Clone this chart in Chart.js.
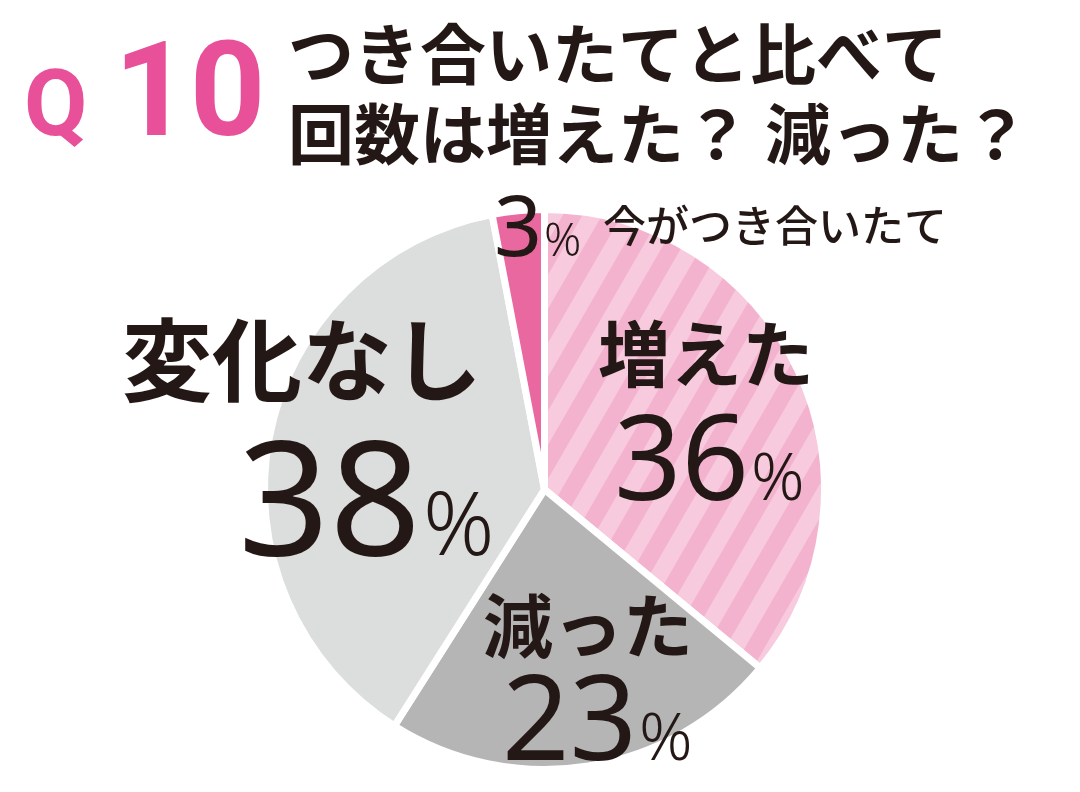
<!DOCTYPE html>
<html>
<head>
<meta charset="utf-8">
<script src="https://cdn.jsdelivr.net/npm/chart.js@4.4.1/dist/chart.umd.min.js"></script>
<style>
html, body { margin: 0; padding: 0; background: #fff; }
#wrap { width: 1080px; height: 792px; position: relative; }
</style>
</head>
<body>
<div id="wrap"><canvas id="myChart"></canvas></div>
<script>
// answers, clockwise from 12 o'clock
const categories = ['増えた', '減った', '変化なし', '今がつき合いたて'];
const values = [36, 23, 38, 3];
const sliceColors = ['#f7c9dc', '#b5b5b6', '#dcdddd', '#e9689f'];
const titleLines = ['つき合いたてと比べて', '回数は増えた？ 減った？'];

// pink diagonal stripes for the first slice
function stripePattern() {
    const c = document.createElement('canvas');
    c.width = 34; c.height = 34;
    const g = c.getContext('2d');
    g.fillStyle = '#f7cadd';
    g.fillRect(0, 0, 34, 34);
    g.fillStyle = '#f3b3cf';
    g.fillRect(17, 0, 17, 34);
    const p = g.createPattern(c, 'repeat');
    p.setTransform(new DOMMatrix().rotate(30));
    return p;
}
const bg = sliceColors.slice();
bg[0] = stripePattern();

const INK = '#231815';

function pctText(ctx, num, x, y, numSize, pctSize) {
    ctx.font = '400 ' + numSize + 'px "Noto Sans", sans-serif';
    ctx.textAlign = 'left';
    ctx.textBaseline = 'alphabetic';
    ctx.fillText(num, x, y);
    const w = ctx.measureText(num).width;
    ctx.font = '300 ' + pctSize + 'px "Noto Sans", sans-serif';
    ctx.fillText('%', x + w + 2, y);
}

const labelsPlugin = {
    id: 'labels',
    afterDraw(chart) {
        const ctx = chart.ctx;
        ctx.save();

        // header
        ctx.fillStyle = '#e8519a';
        ctx.textBaseline = 'alphabetic';
        ctx.textAlign = 'left';
        ctx.font = '700 92px Roboto, sans-serif';
        ctx.fillText('Q', 24, 135);
        ctx.font = '700 132px Roboto, sans-serif';
        ctx.fillText('10', 114, 135);

        ctx.fillStyle = INK;
        ctx.font = '700 66px "Noto Sans CJK JP", sans-serif';
        ctx.textBaseline = 'middle';
        ctx.fillText(titleLines[0], 288, 54);
        ctx.fillText(titleLines[1], 288, 134);

        // slice labels
        ctx.textAlign = 'center';
        ctx.font = '700 72px "Noto Sans CJK JP", sans-serif';
        ctx.fillText(categories[0], 706, 354);
        ctx.font = '700 90px "Noto Sans CJK JP", sans-serif';
        ctx.fillText(categories[2], 302, 360);
        ctx.font = '700 70px "Noto Sans CJK JP", sans-serif';
        ctx.fillText(categories[1], 588, 626);
        ctx.font = '500 43px "Noto Sans CJK JP", sans-serif';
        ctx.textAlign = 'left';
        ctx.fillText(categories[3], 603, 226);

        pctText(ctx, String(values[0]), 614, 500, 118, 66);
        pctText(ctx, String(values[2]), 238, 555, 160, 88);
        pctText(ctx, String(values[1]), 502, 760, 118, 66);
        pctText(ctx, String(values[3]), 494, 256, 84, 46);
        ctx.restore();
    }
};

new Chart(document.getElementById('myChart'), {
    type: 'pie',
    data: {
        labels: categories,
        datasets: [{
            data: values,
            backgroundColor: bg,
            borderColor: '#ffffff',
            borderWidth: 7
        }]
    },
    options: {
        responsive: true,
        maintainAspectRatio: false,
        animation: false,
        layout: { padding: { top: 206, bottom: 19, left: 261, right: 252 } },
        plugins: {
            legend: { display: false },
            tooltip: { enabled: false }
        }
    },
    plugins: [labelsPlugin]
});
</script>
</body>
</html>
